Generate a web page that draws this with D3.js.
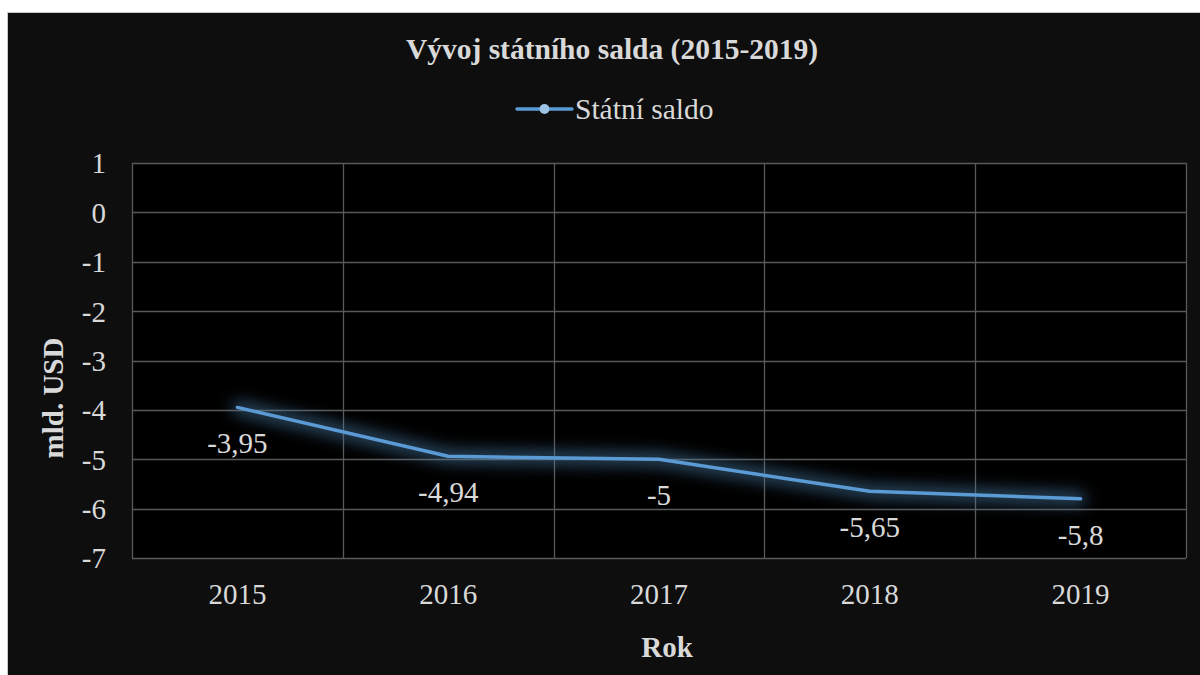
<!DOCTYPE html>
<html>
<head>
<meta charset="utf-8">
<script src="https://cdn.jsdelivr.net/npm/d3@7"></script>
<style>
  html, body { margin: 0; padding: 0; background: #fff; }
  svg { display: block; }
  svg text { font-family: "Liberation Serif", "Times New Roman", Times, serif; }
</style>
</head>
<body>
<svg id="chart" width="1200" height="675"></svg>
<script>
// data
const years = ['2015', '2016', '2017', '2018', '2019']
const saldo = [-3.95, -4.94, -5, -5.65, -5.8]
const yTicks = [1, 0, -1, -2, -3, -4, -5, -6, -7]

const width = 1200, height = 675
const margin = { top: 163, right: 14, bottom: 117, left: 132 }
const fontSize = 29
const textColor = '#d9d9d9'
const gridColor = '#595959'
const lineColor = '#5b9bd5'

const svg = d3.select('#chart')

// chart background with thin frame on top/left
svg.append('rect')
  .attr('x', 7.5).attr('y', 12.5)
  .attr('width', width).attr('height', height)
  .attr('fill', '#0e0e0e')
  .attr('stroke', '#c8c8c8').attr('stroke-width', 1)

const defs = svg.append('defs')
const glow = defs.append('filter').attr('id', 'glow')
  .attr('x', '-20%').attr('y', '-50%').attr('width', '140%').attr('height', '200%')
glow.append('feGaussianBlur').attr('in', 'SourceGraphic').attr('stdDeviation', 8).attr('result', 'blur')
glow.append('feColorMatrix').attr('in', 'blur').attr('type', 'matrix')
  .attr('values', '0 0 0 0 0.07  0 0 0 0 0.22  0 0 0 0 0.42  0 0 0 0.8 0')

const x = d3.scaleBand()
  .domain(years)
  .range([margin.left, width - margin.right])

const y = d3.scaleLinear()
  .domain([-7, 1])
  .range([height - margin.bottom, margin.top])

// plot area
svg.append('rect')
  .attr('x', margin.left).attr('y', margin.top)
  .attr('width', width - margin.left - margin.right)
  .attr('height', height - margin.top - margin.bottom)
  .attr('fill', '#000')

// horizontal grid
svg.append('g')
  .selectAll('line')
  .data(yTicks)
  .join('line')
  .attr('x1', margin.left).attr('x2', width - margin.right)
  .attr('y1', d => Math.round(y(d)) + 0.5).attr('y2', d => Math.round(y(d)) + 0.5)
  .attr('stroke', gridColor).attr('stroke-width', 1.3)

// vertical grid at band edges
const edges = years.map(d => x(d)).concat([x(years[years.length - 1]) + x.bandwidth()])
svg.append('g')
  .selectAll('line')
  .data(edges)
  .join('line')
  .attr('x1', d => Math.round(d) + 0.5).attr('x2', d => Math.round(d) + 0.5)
  .attr('y1', margin.top).attr('y2', height - margin.bottom)
  .attr('stroke', gridColor).attr('stroke-width', 1.3)

// y axis labels
const yAxis = svg.append('g')
  .attr('transform', `translate(${margin.left - 26},0)`)
  .call(d3.axisLeft(y).tickValues(yTicks).tickSize(0).tickPadding(0).tickFormat(d => String(d)))
yAxis.select('.domain').remove()
yAxis.attr('font-family', null).attr('font-size', null)
yAxis.selectAll('text')
  .attr('fill', textColor).attr('font-size', fontSize)
  .attr('dy', '0.34em')

// x axis labels
const xAxis = svg.append('g')
  .attr('transform', `translate(0,${height - margin.bottom + 46})`)
  .call(d3.axisBottom(x).tickSize(0).tickPadding(0))
xAxis.select('.domain').remove()
xAxis.attr('font-family', null).attr('font-size', null)
xAxis.selectAll('text')
  .attr('fill', textColor).attr('font-size', fontSize)
  .attr('y', 0).attr('dy', 0)

// line with glow
const cx = d => x(d) + x.bandwidth() / 2
const line = d3.line()
  .x((d, i) => cx(years[i]))
  .y(d => y(d))

svg.append('path')
  .datum(saldo)
  .attr('d', line)
  .attr('fill', 'none')
  .attr('stroke', lineColor).attr('stroke-width', 10)
  .attr('stroke-linecap', 'round')
  .attr('filter', 'url(#glow)')

svg.append('path')
  .datum(saldo)
  .attr('d', line)
  .attr('fill', 'none')
  .attr('stroke', lineColor).attr('stroke-width', 3.5)
  .attr('stroke-linecap', 'round').attr('stroke-linejoin', 'round')

// data labels
const fmt = v => String(v).replace('.', ',')
svg.append('g')
  .selectAll('text')
  .data(saldo)
  .join('text')
  .attr('x', (d, i) => cx(years[i]))
  .attr('y', d => y(d) + 46)
  .attr('text-anchor', 'middle')
  .attr('fill', textColor).attr('font-size', fontSize)
  .text(fmt)

// title
svg.append('text')
  .attr('x', 612).attr('y', 59)
  .attr('text-anchor', 'middle')
  .attr('fill', textColor)
  .attr('font-size', 29.5).attr('font-weight', 'bold')
  .text('Vývoj státního salda (2015-2019)')

// legend
const lg = svg.append('g').attr('transform', 'translate(517,109)')
lg.append('line')
  .attr('x1', 0).attr('x2', 55).attr('y1', 0).attr('y2', 0)
  .attr('stroke', lineColor).attr('stroke-width', 3.5).attr('stroke-linecap', 'round')
lg.append('circle')
  .attr('cx', 27.5).attr('cy', 0).attr('r', 5)
  .attr('fill', '#9dc3e6')
lg.append('text')
  .attr('x', 58).attr('y', 10)
  .attr('fill', textColor).attr('font-size', 29.5)
  .text('Státní saldo')

// axis titles
svg.append('text')
  .attr('transform', 'translate(63,398) rotate(-90)')
  .attr('text-anchor', 'middle')
  .attr('fill', textColor)
  .attr('font-size', fontSize).attr('font-weight', 'bold')
  .text('mld. USD')

svg.append('text')
  .attr('x', 667).attr('y', 657)
  .attr('text-anchor', 'middle')
  .attr('fill', textColor)
  .attr('font-size', fontSize).attr('font-weight', 'bold')
  .text('Rok')
</script>
</body>
</html>
